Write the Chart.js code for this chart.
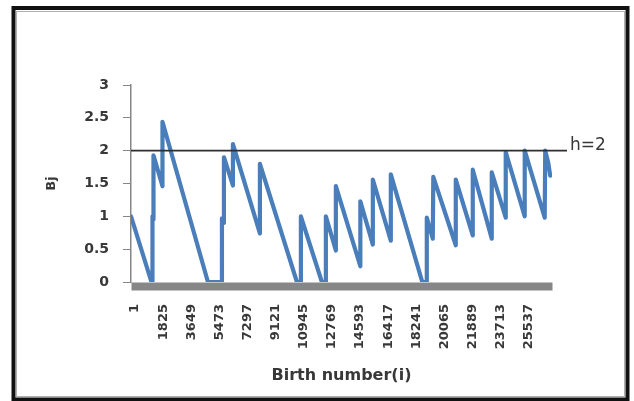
<!DOCTYPE html>
<html>
<head>
<meta charset="utf-8">
<title>Bj by birth number</title>
<script src="https://cdn.jsdelivr.net/npm/chart.js@4.4.1/dist/chart.umd.min.js"></script>
<style>
  html, body { margin: 0; padding: 0; background: #ffffff; }
  canvas { display: block; }
</style>
</head>
<body>
<canvas id="chart" width="634" height="401"></canvas>
<script>
// Birth number (i) at each vertex of the Bj trace; repeated values mark a jump.
const BIRTH = [
  1, 1328, 1393, 1393, 1458, 1458, 2041, 2041, 4990, 5897, 5897, 6026, 6026,
  6610, 6610, 8359, 8359, 10757, 11016, 11016, 12377, 12636, 12636, 13284, 13284,
  14872, 14872, 15682, 15682, 16848, 16848, 18889, 19181, 19181, 19570, 19602,
  21060, 21060, 22162, 22162, 23393, 23393, 24300, 24300, 25531, 25531,
  26827, 26860, 27054, 27184
];
// Bj value at each vertex
const BJ = [
  1.0, 0, 0, 1.0, 0.95, 1.93, 1.46, 2.44, 0, 0, 0.97, 0.9, 1.9,
  1.47, 2.1, 0.74, 1.8, 0, 0, 1.0, 0, 0, 1.0, 0.48, 1.46,
  0.24, 1.23, 0.57, 1.56, 0.63, 1.64, 0, 0, 0.98, 0.66, 1.6,
  0.56, 1.56, 0.71, 1.71, 0.66, 1.67, 0.98, 1.98, 1.0, 2.0,
  0.98, 2.0, 1.82, 1.62
];
// Category axis labels (every 1824 births)
const XTICKS = [1, 1825, 3649, 5473, 7297, 9121, 10945, 12769, 14593, 16417,
                18241, 20065, 21889, 23713, 25537];
const YTICKS = [0, 0.5, 1, 1.5, 2, 2.5, 3];
const N_BIRTHS = 27300;
// Decision threshold
const H = 2;
const H_LABEL = 'h=' + H;

const TEXT = '#383838';
const AXIS_GRAY = '#868686';

const framePlugin = {
  id: 'frame',
  beforeDraw(chart) {
    const ctx = chart.ctx;
    ctx.save();
    ctx.fillStyle = '#ffffff';
    ctx.fillRect(0, 0, chart.width, chart.height);
    ctx.strokeStyle = '#111111';
    ctx.lineWidth = 4;
    ctx.strokeRect(13.5, 8, 614, 391.5);
    ctx.strokeStyle = '#b0b0b0';
    ctx.lineWidth = 1;
    ctx.strokeRect(16.5, 11.5, 608, 385);
    ctx.restore();
  }
};

// Thick grey category axis bar under the plot
const axisBarPlugin = {
  id: 'axisBar',
  beforeDatasetsDraw(chart) {
    const {ctx, chartArea} = chart;
    ctx.save();
    ctx.fillStyle = '#878787';
    ctx.fillRect(chartArea.left + 0.5, chartArea.bottom + 0.5,
                 chartArea.right - chartArea.left, 8);
    ctx.restore();
  }
};

// Horizontal threshold line with its label
const thresholdPlugin = {
  id: 'threshold',
  afterDatasetsDraw(chart) {
    const {ctx, chartArea} = chart;
    const y = chart.scales.y.getPixelForValue(H);
    ctx.save();
    ctx.strokeStyle = '#2e2e2e';
    ctx.lineWidth = 1.6;
    ctx.beginPath();
    ctx.moveTo(chartArea.left, y);
    ctx.lineTo(chartArea.right + 15, y);
    ctx.stroke();
    ctx.fillStyle = TEXT;
    ctx.font = '17px "DejaVu Sans"';
    ctx.textAlign = 'left';
    ctx.textBaseline = 'alphabetic';
    ctx.fillText(H_LABEL, chartArea.right + 18, y - 0.5);
    ctx.restore();
  }
};

const points = BIRTH.map((x, k) => ({ x: x, y: BJ[k] }));

new Chart(document.getElementById('chart'), {
  type: 'line',
  data: {
    datasets: [{
      label: 'Bj',
      data: points,
      borderColor: '#4a7ebb',
      borderWidth: 4.2,
      borderJoinStyle: 'round',
      borderCapStyle: 'round',
      pointRadius: 0,
      tension: 0,
      fill: false
    }]
  },
  options: {
    responsive: false,
    animation: false,
    devicePixelRatio: 1,
    layout: { padding: { left: 0, top: 85, right: 82, bottom: 0 } },
    plugins: {
      legend: { display: false },
      tooltip: { enabled: false }
    },
    scales: {
      x: {
        type: 'linear',
        min: 0,
        max: N_BIRTHS,
        afterFit(scale) { scale.height = 119; },
        afterBuildTicks(scale) { scale.ticks = XTICKS.map(v => ({ value: v })); },
        grid: { display: false, drawTicks: false },
        border: { display: false },
        ticks: {
          autoSkip: false,
          minRotation: 90,
          maxRotation: 90,
          padding: 22,
          labelOffset: 4,
          color: TEXT,
          font: { family: 'DejaVu Sans', size: 13, weight: 'bold' },
          callback: v => String(v)
        },
        title: {
          display: true,
          text: 'Birth number(i)',
          color: TEXT,
          font: { family: 'DejaVu Sans', size: 16, weight: 'bold' },
          padding: { top: 0, bottom: 16 }
        }
      },
      y: {
        min: 0,
        max: 3,
        afterFit(scale) { scale.width = 131; },
        afterBuildTicks(scale) { scale.ticks = YTICKS.map(v => ({ value: v })); },
        grid: {
          display: true,
          drawOnChartArea: false,
          drawTicks: true,
          tickLength: 8,
          color: AXIS_GRAY,
          lineWidth: 1
        },
        border: { display: true, color: AXIS_GRAY, width: 1.5 },
        ticks: {
          padding: 14,
          color: TEXT,
          font: { family: 'DejaVu Sans', size: 14, weight: 'bold' },
          callback: v => String(v)
        },
        title: {
          display: true,
          text: 'Bj',
          color: TEXT,
          font: { family: 'DejaVu Sans', size: 13, weight: 'bold' },
          padding: { top: 44, bottom: 0 }
        }
      }
    }
  },
  plugins: [framePlugin, axisBarPlugin, thresholdPlugin]
});
</script>
</body>
</html>
